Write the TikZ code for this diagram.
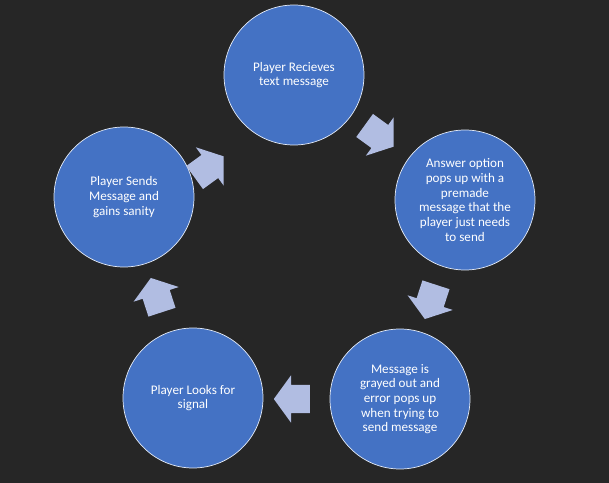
\documentclass[tikz,border=0pt]{standalone}
\usepackage{fontspec}
\setmainfont{Carlito}
\usepackage{xcolor}
\usepackage{tikz}
\usetikzlibrary{shapes,arrows,arrows.meta}

\definecolor{bgdark}{HTML}{262626}
\definecolor{stepblue}{HTML}{4472C4}
\definecolor{arrowblue}{HTML}{B1BDE2}

\begin{document}
\begin{tikzpicture}[x=0.03cm, y=-0.03cm,
  stepcircle/.style={circle, draw=white!85!stepblue, line width=0.6pt, fill=stepblue, text=white, minimum size=4.2cm, inner sep=0, align=center, font=\fontsize{11.2}{12.5}\selectfont},
  cyclearrow/.style={single arrow, fill=arrowblue, draw=none, minimum height=1.08cm, inner xsep=0, inner ysep=0.42cm, single arrow head extend=0.285cm, single arrow tip angle=108}]
%background
\fill[bgdark] (0,0) rectangle (609,483);
\node[stepcircle] (c1) at (294,75) {Player Recieves\\text message};
\node[stepcircle] (c2) at (465,200) {Answer option\\pops up with a\\premade\\message that the\\player just needs\\to send};
\node[stepcircle] (c3) at (400,399) {Message is\\grayed out and\\error pops up\\when trying to\\send message};
\node[stepcircle] (c4) at (193,398) {Player Looks for\\signal};
\node[stepcircle] (c5) at (124,197) {Player Sends\\Message and\\gains sanity};
\node[cyclearrow, rotate=-36] (a1) at (375,133) {};
\node[cyclearrow, rotate=-108] (a2) at (432,297) {};
\node[cyclearrow, rotate=180] (a3) at (297,399) {};
\node[cyclearrow, rotate=108] (a4) at (158,300) {};
\node[cyclearrow, rotate=36] (a5) at (205,170) {};
\end{tikzpicture}
\end{document}
